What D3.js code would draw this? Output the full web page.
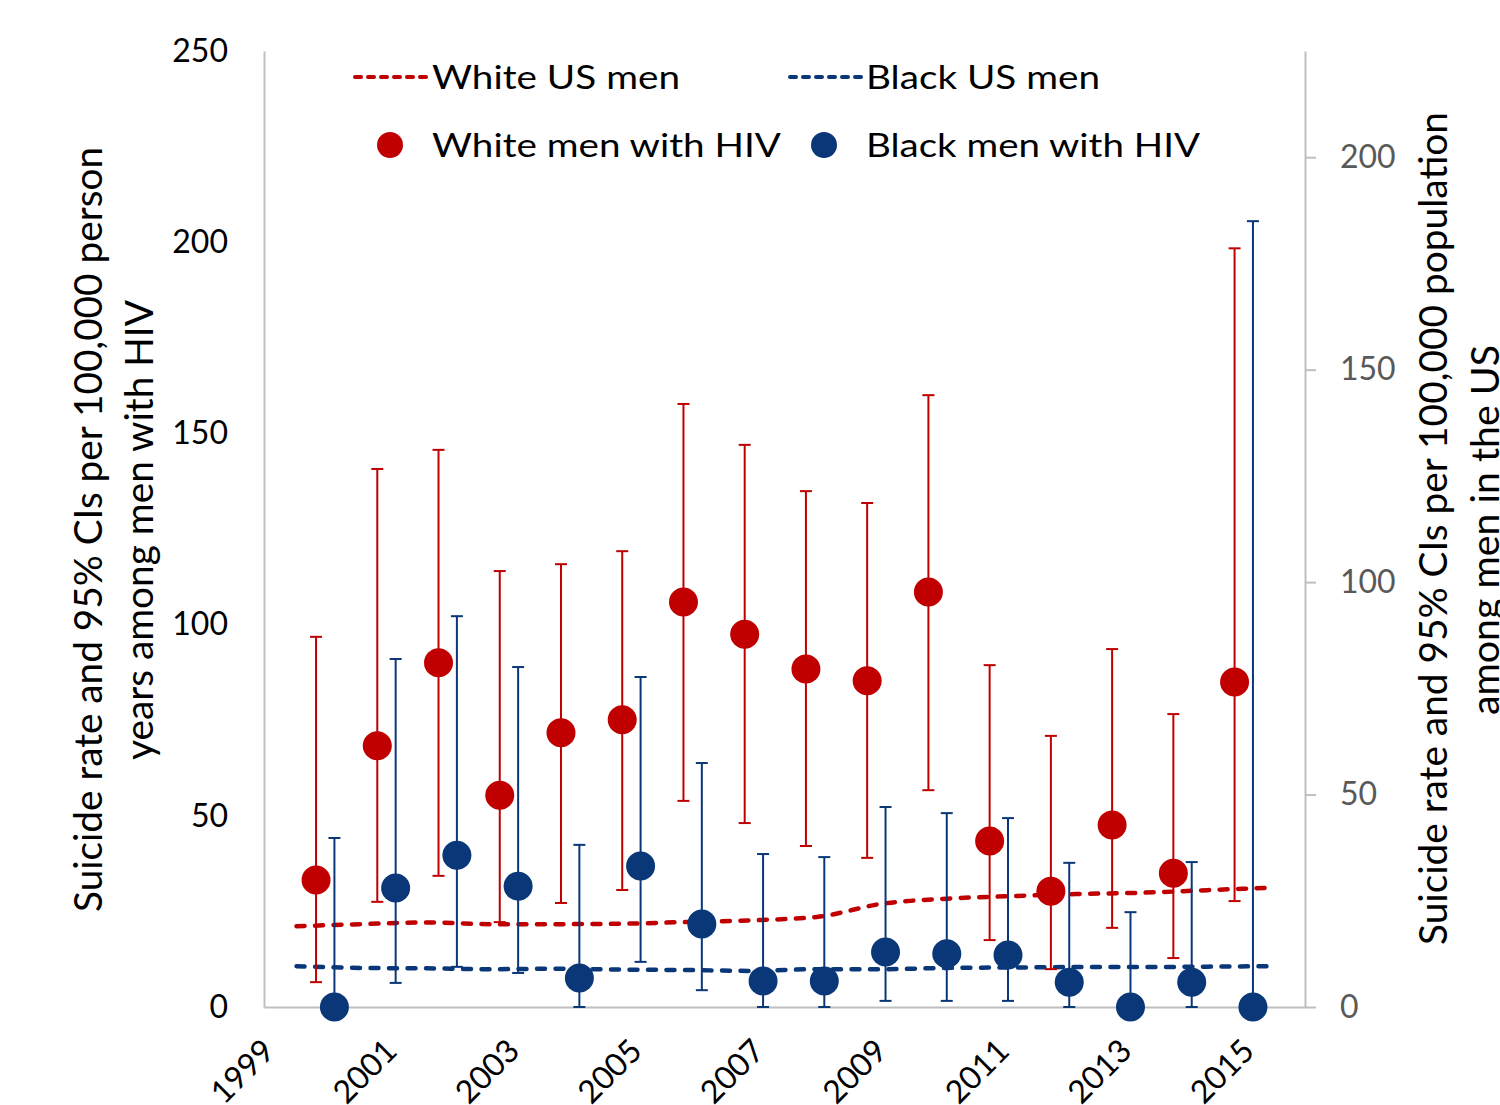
<!DOCTYPE html>
<html>
<head>
<meta charset="utf-8">
<script src="https://cdn.jsdelivr.net/npm/d3@7"></script>
<style>
  body { margin: 0; background: #fff; }
  svg { display: block; font-family: Lato, "Open Sans", sans-serif; }
</style>
</head>
<body>
<svg id="chart" width="1500" height="1105"></svg>
<script>
// years of the HIV cohort
const years = [2000, 2001, 2002, 2003, 2004, 2005, 2006, 2007, 2008, 2009, 2010, 2011, 2012, 2013, 2014, 2015];
const xTickYears = [1999, 2001, 2003, 2005, 2007, 2009, 2011, 2013, 2015];
const leftTicks = [0, 50, 100, 150, 200, 250];
const rightTicks = [0, 50, 100, 150, 200];

// suicide rate per 100,000 person years among men with HIV (left axis)
const whiteHIV   = [33.2, 68.3, 90.0, 55.4, 71.7, 75.1, 105.9, 97.5, 88.4, 85.3, 108.5, 43.4, 30.3, 47.6, 35.0, 85.0];
const whiteHIVLo = [6.5, 27.5, 34.3, 22.2, 27.2, 30.6, 53.9, 48.1, 42.1, 39.0, 56.7, 17.5, 9.9, 20.7, 12.8, 27.7];
const whiteHIVHi = [96.8, 140.7, 145.7, 114.0, 115.8, 119.2, 157.7, 147.0, 134.9, 131.8, 160.0, 89.4, 70.9, 93.6, 76.6, 198.4];
const blackHIV   = [0, 31.1, 39.7, 31.6, 7.6, 36.9, 21.7, 6.8, 6.8, 14.4, 13.9, 13.6, 6.5, 0, 6.5, 0];
const blackHIVLo = [0, 6.3, 10.5, 8.9, 0, 11.8, 4.4, 0, 0, 1.6, 1.6, 1.6, 0, 0, 0, 0];
const blackHIVHi = [44.2, 91.0, 102.2, 88.9, 42.4, 86.3, 63.8, 40.0, 39.2, 52.3, 50.7, 49.4, 37.7, 24.8, 37.9, 205.5];

// suicide rate per 100,000 population among US men (right axis)
const whiteUS = [19.0, 19.5, 19.9, 19.5, 19.5, 19.6, 20.0, 20.4, 21.2, 24.3, 25.5, 26.1, 26.6, 26.9, 27.5, 28.1];
const blackUS = [9.6, 9.2, 9.1, 8.9, 9.0, 8.8, 8.7, 8.5, 8.9, 8.9, 9.2, 9.3, 9.4, 9.4, 9.5, 9.6];

const RED = "#C00000";
const BLUE = "#0A3778";
const AXIS = "#BFBFBF";

const svg = d3.select("#chart");
const plot = {left: 264, right: 1305, top: 51, bottom: 1007};

// scatter x axis (linear years), line x axis (categories centred between ticks)
const x = d3.scaleLinear().domain([1999, 2016]).range([plot.left, plot.right]);
const xCat = d3.scalePoint().domain(years).range([plot.left, plot.right]).padding(0.5);
const yL = d3.scaleLinear().domain([0, 250]).range([plot.bottom, plot.top]);
const yR = d3.scaleLinear().domain([0, 225]).range([plot.bottom, plot.top]);

// axes
const gLeft = svg.append("g")
    .attr("transform", `translate(${plot.left},0)`)
    .call(d3.axisLeft(yL).tickValues(leftTicks).tickSize(0).tickSizeOuter(0).tickPadding(36));
const gRight = svg.append("g")
    .attr("transform", `translate(${plot.right},0)`)
    .call(d3.axisRight(yR).tickValues(rightTicks).tickSize(11).tickSizeOuter(0).tickPadding(24));
const gBottom = svg.append("g")
    .attr("transform", `translate(0,${plot.bottom})`)
    .call(d3.axisBottom(x).tickValues(xTickYears).tickFormat(d3.format("d")).tickSize(0).tickSizeOuter(0));

[gLeft, gRight, gBottom].forEach(g => {
    g.select(".domain").attr("stroke", AXIS).attr("stroke-width", 2);
    g.selectAll("text").attr("font-family", "Lato, sans-serif").attr("font-size", 32);
});
gLeft.selectAll("text").attr("fill", "#000");
gRight.selectAll("line").attr("stroke", AXIS).attr("stroke-width", 2);
gRight.selectAll("text").attr("fill", "#595959");
gBottom.selectAll("text")
    .attr("fill", "#000")
    .attr("text-anchor", "end")
    .attr("y", 0)
    .attr("dy", "0.35em")
    .attr("transform", "translate(4,38) rotate(-45)");

// US population lines (right axis)
const line = d3.line()
    .x((d, i) => xCat(years[i]))
    .y(d => yR(d))
    .curve(d3.curveMonotoneX);

[[whiteUS, RED], [blackUS, BLUE]].forEach(([data, color]) => {
    svg.append("path")
        .datum(data)
        .attr("d", line)
        .attr("fill", "none")
        .attr("stroke", color)
        .attr("stroke-width", 4.5)
        .attr("stroke-linecap", "round")
        .attr("stroke-dasharray", "8,10.5");
});

// HIV series with 95% CIs (left axis)
const series = [
    {vals: whiteHIV, lo: whiteHIVLo, hi: whiteHIVHi, color: RED, off: -0.15},
    {vals: blackHIV, lo: blackHIVLo, hi: blackHIVHi, color: BLUE, off: 0.15}
];
const capW = 6;

series.forEach(s => {
    const g = svg.append("g");
    const bars = g.selectAll("g.bar")
        .data(years)
        .enter().append("g")
        .attr("class", "bar")
        .attr("stroke", s.color)
        .attr("stroke-width", 2);
    bars.append("line")
        .attr("x1", (d) => x(d + s.off)).attr("x2", (d) => x(d + s.off))
        .attr("y1", (d, i) => yL(s.lo[i])).attr("y2", (d, i) => yL(s.hi[i]));
    bars.append("line")
        .attr("x1", (d) => x(d + s.off) - capW).attr("x2", (d) => x(d + s.off) + capW)
        .attr("y1", (d, i) => yL(s.hi[i])).attr("y2", (d, i) => yL(s.hi[i]));
    bars.append("line")
        .attr("x1", (d) => x(d + s.off) - capW).attr("x2", (d) => x(d + s.off) + capW)
        .attr("y1", (d, i) => yL(s.lo[i])).attr("y2", (d, i) => yL(s.lo[i]));
});

series.forEach(s => {
    svg.append("g").selectAll("circle")
        .data(years)
        .enter().append("circle")
        .attr("cx", (d) => x(d + s.off))
        .attr("cy", (d, i) => yL(s.vals[i]))
        .attr("r", 14.5)
        .attr("fill", s.color);
});

// axis titles
const titles = [
    {text: "Suicide rate and 95% CIs per 100,000 person", x: 102, y: 529.5, len: 765},
    {text: "years among men with HIV", x: 153, y: 530, len: 460},
    {text: "Suicide rate and 95% CIs per 100,000 population", x: 1447, y: 528.5, len: 833},
    {text: "among men in the US", x: 1499, y: 530, len: 370}
];
svg.append("g").selectAll("text")
    .data(titles)
    .enter().append("text")
    .attr("transform", d => `translate(${d.x},${d.y}) rotate(-90)`)
    .attr("text-anchor", "middle")
    .attr("font-size", 38)
    .attr("fill", "#000")
    .attr("textLength", d => d.len)
    .attr("lengthAdjust", "spacingAndGlyphs")
    .text(d => d.text);

// legend
const legend = svg.append("g");
const legendLines = [
    {label: "White US men", color: RED, x0: 355, x1: 428, tx: 432, y: 77, len: 248},
    {label: "Black US men", color: BLUE, x0: 790, x1: 862, tx: 866, y: 77, len: 234}
];
const legendDots = [
    {label: "White men with HIV", color: RED, cx: 390, tx: 432, y: 145, len: 349},
    {label: "Black men with HIV", color: BLUE, cx: 824, tx: 866, y: 145, len: 334}
];
legendLines.forEach(d => {
    legend.append("line")
        .attr("x1", d.x0).attr("x2", d.x1).attr("y1", d.y).attr("y2", d.y)
        .attr("stroke", d.color).attr("stroke-width", 4)
        .attr("stroke-linecap", "round")
        .attr("stroke-dasharray", "6,7");
});
legendDots.forEach(d => {
    legend.append("circle").attr("cx", d.cx).attr("cy", d.y).attr("r", 13).attr("fill", d.color);
});
legend.selectAll("text")
    .data(legendLines.concat(legendDots))
    .enter().append("text")
    .attr("x", d => d.tx)
    .attr("y", d => d.y + 12)
    .attr("font-size", 33)
    .attr("fill", "#000")
    .attr("textLength", d => d.len)
    .attr("lengthAdjust", "spacingAndGlyphs")
    .text(d => d.label);
</script>
</body>
</html>
